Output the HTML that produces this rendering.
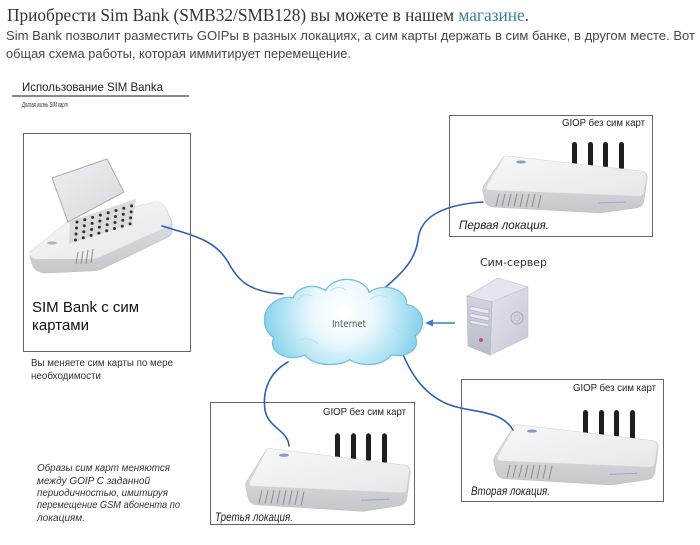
<!DOCTYPE html>
<html>
<head>
<meta charset="utf-8">
<style>
html,body{margin:0;padding:0;background:#fff;}
svg{display:block;}
</style>
</head>
<body>
<svg width="700" height="545" viewBox="0 0 700 545" xmlns="http://www.w3.org/2000/svg">
<defs>
  <linearGradient id="gtop" x1="0" y1="0" x2="1" y2="1">
    <stop offset="0" stop-color="#f8f8fa"/>
    <stop offset="1" stop-color="#e6e7ea"/>
  </linearGradient>
  <linearGradient id="gfront" x1="0" y1="0" x2="0" y2="1">
    <stop offset="0" stop-color="#e4e5e8"/>
    <stop offset="1" stop-color="#c6c7cb"/>
  </linearGradient>
  <linearGradient id="glid" x1="0" y1="0" x2="1" y2="1">
    <stop offset="0" stop-color="#eef0f2"/>
    <stop offset="1" stop-color="#d6d9dd"/>
  </linearGradient>
  <radialGradient id="cg" cx="343" cy="312" r="85" gradientUnits="userSpaceOnUse">
    <stop offset="0" stop-color="#ffffff"/>
    <stop offset="0.35" stop-color="#eef9fd"/>
    <stop offset="0.72" stop-color="#ade1f3"/>
    <stop offset="1" stop-color="#7ccde9"/>
  </radialGradient>
  <linearGradient id="srvF" x1="0" y1="0" x2="0" y2="1">
    <stop offset="0" stop-color="#d2d4e0"/>
    <stop offset="1" stop-color="#b9bccb"/>
  </linearGradient>
  <linearGradient id="srvS" x1="0" y1="0" x2="1" y2="1">
    <stop offset="0" stop-color="#e3e4ec"/>
    <stop offset="1" stop-color="#c6c8d6"/>
  </linearGradient>

  <g id="goip">
    <rect x="572" y="142" width="5" height="24" rx="2.5" fill="#1e1e1e"/>
    <rect x="588" y="142" width="5" height="25" rx="2.5" fill="#1e1e1e"/>
    <rect x="603" y="142" width="5" height="26" rx="2.5" fill="#1e1e1e"/>
    <rect x="619" y="142" width="5" height="28" rx="2.5" fill="#1e1e1e"/>
    <path d="M506 156 L641 171 Q648 172 647 179 L644 200 Q643 207 636 208 L600 213 L493 207 Q486 206 485 200 L483 192 Q482 188 485 184 L502 159 Q504 156 506 156 Z" fill="url(#gfront)" stroke="#bfc0c4" stroke-width="0.6"/>
    <path d="M506 156 L641 171 Q647 172 646 178 L643 194 Q642 196 638 196 L490 190 Q485 190 487 186 L503 159 Q504 156 506 156 Z" fill="url(#gtop)"/>
    <g stroke="#8b8c91" stroke-width="1">
      <line x1="496" y1="206" x2="499" y2="194"/>
      <line x1="502" y1="206" x2="505" y2="194"/>
      <line x1="508" y1="206" x2="511" y2="194"/>
      <line x1="514" y1="206" x2="517" y2="194"/>
      <line x1="520" y1="207" x2="523" y2="194"/>
      <line x1="526" y1="207" x2="529" y2="194"/>
      <line x1="532" y1="207" x2="535" y2="194"/>
      <line x1="538" y1="208" x2="541" y2="195"/>
    </g>
    <line x1="598" y1="203" x2="626" y2="202" stroke="#8a9ac0" stroke-width="1" opacity="0.7"/>
    <ellipse cx="521" cy="162" rx="5" ry="1.5" fill="#6a86b8" opacity="0.8"/>
  </g>
</defs>

<rect x="0" y="0" width="700" height="545" fill="#fff"/>

<!-- Header text -->
<text x="7" y="21" font-family="'Liberation Serif', 'DejaVu Serif', serif" font-size="18" fill="#333" textLength="522" lengthAdjust="spacingAndGlyphs">Приобрести Sim Bank (SMB32/SMB128) вы можете в нашем <tspan fill="#3a7d9c">магазине</tspan>.</text>
<text x="6" y="40" font-family="'Liberation Sans', sans-serif" font-size="12.5" fill="#474747" textLength="689" lengthAdjust="spacingAndGlyphs">Sim Bank позволит  разместить  GOIPы  в разных локациях, а сим карты держать в сим банке, в другом месте. Вот</text>
<text x="6" y="58" font-family="'Liberation Sans', sans-serif" font-size="12.5" fill="#474747" textLength="345" lengthAdjust="spacingAndGlyphs">общая схема работы, которая иммитирует перемещение.</text>

<text x="22" y="91" font-family="'Liberation Sans', sans-serif" font-size="12" fill="#222" textLength="141" lengthAdjust="spacingAndGlyphs">Использование SIM Banka</text>
<line x1="12" y1="96" x2="189" y2="96" stroke="#8a8a8a" stroke-width="2"/>
<text x="22" y="107" font-family="'Liberation Sans', sans-serif" font-size="7.5" font-style="italic" fill="#333" textLength="46" lengthAdjust="spacingAndGlyphs">Долгая жизнь SIM карт</text>

<!-- SIM bank box -->
<rect x="23.5" y="133.5" width="167" height="218" fill="#fff" stroke="#666" stroke-width="1"/>
<!-- SIM bank device -->
<path d="M30 252 L66 223 L155 202 Q162 201 166 208 L172 222 L172 232 Q171 236 166 238 L104 268 Q98 271 90 271 L48 273 Q36 273 33 266 L30 258 Z" fill="url(#gfront)" stroke="#bfc0c4" stroke-width="0.6"/>
<path d="M30 252 L66 223 L155 202 Q162 201 166 208 L171 221 Q172 224 168 226 L100 257 Q95 259 88 259 L36 259 Q29 258 30 252 Z" fill="url(#gtop)"/>
<polygon points="52,178 107,159 124,192 68,222" fill="url(#glid)" stroke="#a9acb1" stroke-width="1"/>
<polygon points="70,221 136,199 132,224 69,244" fill="#d9dbdf"/>
<g fill="#303030">
  <circle cx="77" cy="222" r="1.5"/><circle cx="84.8" cy="219.7" r="1.5"/><circle cx="92.6" cy="217.4" r="1.5"/><circle cx="100.4" cy="215.1" r="1.5"/><circle cx="108.2" cy="212.8" r="1.5"/><circle cx="116" cy="210.5" r="1.5"/><circle cx="123.8" cy="208.2" r="1.5"/><circle cx="131.6" cy="205.9" r="1.5"/>
  <circle cx="76.5" cy="228" r="1.5"/><circle cx="84.3" cy="225.7" r="1.5"/><circle cx="92.1" cy="223.4" r="1.5"/><circle cx="99.9" cy="221.1" r="1.5"/><circle cx="107.7" cy="218.8" r="1.5"/><circle cx="115.5" cy="216.5" r="1.5"/><circle cx="123.3" cy="214.2" r="1.5"/><circle cx="131.1" cy="211.9" r="1.5"/>
  <circle cx="76" cy="234" r="1.5"/><circle cx="83.8" cy="231.7" r="1.5"/><circle cx="91.6" cy="229.4" r="1.5"/><circle cx="99.4" cy="227.1" r="1.5"/><circle cx="107.2" cy="224.8" r="1.5"/><circle cx="115" cy="222.5" r="1.5"/><circle cx="122.8" cy="220.2" r="1.5"/><circle cx="130.6" cy="217.9" r="1.5"/>
  <circle cx="75.5" cy="240" r="1.5"/><circle cx="83.3" cy="237.7" r="1.5"/><circle cx="91.1" cy="235.4" r="1.5"/><circle cx="98.9" cy="233.1" r="1.5"/><circle cx="106.7" cy="230.8" r="1.5"/><circle cx="114.5" cy="228.5" r="1.5"/><circle cx="122.3" cy="226.2" r="1.5"/><circle cx="130.1" cy="223.9" r="1.5"/>
</g>
<g stroke="#8b8c91" stroke-width="1">
  <line x1="76" y1="264" x2="78" y2="252"/>
  <line x1="81" y1="264" x2="83" y2="251"/>
  <line x1="86" y1="264" x2="88" y2="250"/>
  <line x1="91" y1="263" x2="93" y2="249"/>
</g>
<ellipse cx="52" cy="243" rx="5" ry="1.5" fill="#999" opacity="0.7"/>

<text x="32" y="312" font-family="'Liberation Sans', sans-serif" font-size="15" fill="#111">SIM Bank с сим</text>
<text x="32" y="330" font-family="'Liberation Sans', sans-serif" font-size="15" fill="#111">картами</text>

<text x="31" y="366" font-family="'Liberation Sans', sans-serif" font-size="10" fill="#333" textLength="142" lengthAdjust="spacingAndGlyphs">Вы меняете сим карты по мере</text>
<text x="31" y="379" font-family="'Liberation Sans', sans-serif" font-size="10" fill="#333" textLength="70" lengthAdjust="spacingAndGlyphs">необходимости</text>

<g font-family="'Liberation Sans', sans-serif" font-size="10" font-style="italic" fill="#333">
  <text x="37" y="471" textLength="133" lengthAdjust="spacingAndGlyphs">Образы сим карт меняются</text>
  <text x="37" y="484" textLength="113" lengthAdjust="spacingAndGlyphs">между GOIP С заданной</text>
  <text x="37" y="496" textLength="131" lengthAdjust="spacingAndGlyphs">периодичностью, имитируя</text>
  <text x="37" y="508" textLength="143" lengthAdjust="spacingAndGlyphs">перемещение GSM абонента по</text>
  <text x="37" y="521" textLength="48" lengthAdjust="spacingAndGlyphs">локациям.</text>
</g>

<!-- Location boxes -->
<rect x="449.5" y="115.5" width="203" height="121" fill="#fff" stroke="#666" stroke-width="1"/>
<rect x="461.5" y="379.5" width="202" height="122" fill="#fff" stroke="#666" stroke-width="1"/>
<rect x="210.5" y="402.5" width="204" height="122" fill="#fff" stroke="#666" stroke-width="1"/>

<use href="#goip"/>
<use href="#goip" transform="translate(11,260) scale(1,1.056)"/>
<use href="#goip" transform="translate(-237,277) scale(1,1.1)"/>

<g font-family="'Liberation Sans', sans-serif" font-size="10" fill="#222">
  <text x="562" y="126" textLength="83" lengthAdjust="spacingAndGlyphs">GIOP без сим карт</text>
  <text x="573" y="391" textLength="83" lengthAdjust="spacingAndGlyphs">GIOP без сим карт</text>
  <text x="323" y="415" textLength="83" lengthAdjust="spacingAndGlyphs">GIOP без сим карт</text>
</g>
<g font-family="'Liberation Sans', sans-serif" font-size="12" font-style="italic" fill="#222">
  <text x="459" y="229" textLength="90" lengthAdjust="spacingAndGlyphs">Первая локация.</text>
  <text x="471" y="495" textLength="79" lengthAdjust="spacingAndGlyphs">Вторая локация.</text>
  <text x="215" y="521" textLength="78" lengthAdjust="spacingAndGlyphs">Третья локация.</text>
</g>

<!-- Cables -->
<g fill="none" stroke="#2f5fb0" stroke-width="1.6" stroke-linecap="round">
  <path d="M162 226 C195 236 215 240 228 262 C238 280 248 292 283 294"/>
  <path d="M380 292 C400 275 415 262 418 240 C420 218 440 205 483 202"/>
  <path d="M402 352 C410 372 422 392 445 403 C470 414 500 408 513 430"/>
  <path d="M288 362 C270 372 262 390 265 410 C268 428 288 430 289 446"/>
</g>

<!-- Cloud -->
<g fill="#6cc0e0" stroke="#6cc0e0" stroke-width="2.4">
  <ellipse cx="289" cy="320" rx="24" ry="22"/>
  <ellipse cx="312" cy="302" rx="19" ry="15"/>
  <ellipse cx="347" cy="296" rx="22" ry="16"/>
  <ellipse cx="385" cy="303" rx="21" ry="15"/>
  <ellipse cx="404" cy="322" rx="18" ry="17"/>
  <ellipse cx="398" cy="342" rx="18" ry="13"/>
  <ellipse cx="368" cy="350" rx="24" ry="14"/>
  <ellipse cx="330" cy="350" rx="26" ry="14"/>
  <ellipse cx="293" cy="343" rx="20" ry="14"/>
  <ellipse cx="345" cy="322" rx="55" ry="26"/>
</g>
<g fill="url(#cg)">
  <ellipse cx="289" cy="320" rx="24" ry="22"/>
  <ellipse cx="312" cy="302" rx="19" ry="15"/>
  <ellipse cx="347" cy="296" rx="22" ry="16"/>
  <ellipse cx="385" cy="303" rx="21" ry="15"/>
  <ellipse cx="404" cy="322" rx="18" ry="17"/>
  <ellipse cx="398" cy="342" rx="18" ry="13"/>
  <ellipse cx="368" cy="350" rx="24" ry="14"/>
  <ellipse cx="330" cy="350" rx="26" ry="14"/>
  <ellipse cx="293" cy="343" rx="20" ry="14"/>
  <ellipse cx="345" cy="322" rx="55" ry="26"/>
</g>
<g fill="none" stroke="#a8dcef" stroke-width="0.8" opacity="0.8">
  <path d="M298 300 Q304 292 312 296"/>
  <path d="M330 292 Q336 284 346 290"/>
  <path d="M370 300 Q378 292 388 298"/>
  <path d="M393 328 Q402 332 404 340"/>
  <path d="M300 340 Q310 336 318 344"/>
</g>
<text x="332" y="327" font-family="'DejaVu Sans', 'Liberation Sans', sans-serif" font-size="9.5" fill="#555" textLength="34" lengthAdjust="spacingAndGlyphs">Internet</text>

<!-- Arrow from server -->
<line x1="455" y1="323" x2="431" y2="323" stroke="#3b7fc4" stroke-width="1.5"/>
<polygon points="425,323 433,319.5 433,326.5" fill="#3b7fc4"/>

<!-- Server -->
<text x="480" y="266" font-family="'DejaVu Sans', 'Liberation Sans', sans-serif" font-size="10.5" fill="#333" textLength="67" lengthAdjust="spacingAndGlyphs">Сим-сервер</text>
<polygon points="467,296 498,278 528,287 492,302" fill="#e4e5ee" stroke="#c5c7d3" stroke-width="0.6"/>
<polygon points="492,302 528,287 528,337 490,355" fill="url(#srvS)" stroke="#c0c2cf" stroke-width="0.6"/>
<polygon points="467,296 492,302 490,355 468,346" fill="url(#srvF)" stroke="#aeb1c0" stroke-width="0.6"/>
<circle cx="517" cy="318" r="6" fill="none" stroke="#a9acbb" stroke-width="1"/>
<circle cx="517" cy="318" r="3" fill="none" stroke="#b4b6c4" stroke-width="0.8"/>
<g fill="#e6e7ef" stroke="#9ea1b2" stroke-width="0.5">
  <polygon points="470,306 489,310 489,314 470,310"/>
  <polygon points="470,313 489,317 489,321 470,317"/>
  <polygon points="470,320 489,324 489,327 470,323"/>
</g>
<circle cx="481" cy="340" r="2" fill="#d05050"/>
</svg>
</body>
</html>
